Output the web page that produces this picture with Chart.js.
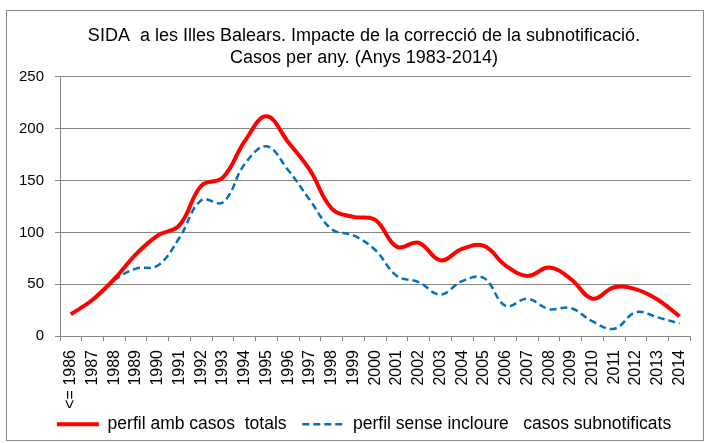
<!DOCTYPE html>
<html>
<head>
<meta charset="utf-8">
<script src="https://cdn.jsdelivr.net/npm/chart.js@4.4.1/dist/chart.umd.min.js"></script>
<style>
  html, body { margin: 0; padding: 0; background: #fff; }
  #wrap { position: relative; width: 708px; height: 443px; }
</style>
</head>
<body>
<div id="wrap"><canvas id="sida-chart"></canvas></div>
<script>
// Categories (first one groups 1983-1986)
const years = [
  '<= 1986', '1987', '1988', '1989', '1990', '1991', '1992', '1993', '1994', '1995',
  '1996', '1997', '1998', '1999', '2000', '2001', '2002', '2003', '2004', '2005',
  '2006', '2007', '2008', '2009', '2010', '2011', '2012', '2013', '2014',
];
// Red line: profile with total cases
const casosTotals = [
  21, 35, 55, 79, 97, 107, 145, 153, 188, 212,
  187, 160, 123, 115, 112, 86, 90, 73, 84, 87,
  68, 58, 66, 55, 36, 47, 45, 35, 19,
];
// Blue dashed line: profile without under-reported cases
const casosSenseSubnotificats = [
  21, 35, 54, 65, 68, 95, 131, 129, 166, 183,
  160, 131, 103, 97, 83, 58, 52, 40, 53, 56,
  29, 36, 26, 27, 14, 7, 23, 18, 12,
];
const yTicks = [0, 50, 100, 150, 200, 250];

const plainFont = "'Liberation Sans', Arial, sans-serif";
const gridGray = '#868686';

// Thin gray frame around the whole chart, like the spreadsheet chart area
const frame = {
  id: 'frame',
  beforeDraw(c) {
    const { ctx } = c;
    ctx.save();
    ctx.strokeStyle = '#8c8c8c';
    ctx.lineWidth = 1;
    ctx.strokeRect(6.5, 10.5, 697, 430);
    ctx.restore();
  },
};

// The original centres title and legend a bit right of the canvas middle
const nudge = {
  id: 'nudge',
  afterLayout(c, args, options) {
    [c.titleBlock, c.legend].forEach((box) => {
      if (!box) return;
      box.left += options.dx;
      box.right += options.dx;
    });
  },
};

const ctx = document.getElementById('sida-chart');
// eslint-disable-next-line no-unused-vars
const chart = new Chart(ctx, {
  type: 'line',
  data: {
    labels: years,
    datasets: [
      {
        label: 'perfil amb casos  totals  ',
        data: casosTotals,
        borderColor: '#ff0000',
        backgroundColor: '#ff0000',
        borderWidth: 4,
        tension: 0.4,
        pointRadius: 0,
        fill: false,
      },
      {
        label: 'perfil sense incloure   casos subnotificats',
        data: casosSenseSubnotificats,
        borderColor: '#0070c0',
        backgroundColor: '#0070c0',
        borderWidth: 2.5,
        borderDash: [7, 4],
        tension: 0.4,
        pointRadius: 0,
        fill: false,
      },
    ],
  },
  options: {
    responsive: true,
    maintainAspectRatio: false,
    animation: false,
    layout: {
      padding: {
        top: 14, bottom: 0, left: 0, right: 16,
      },
    },
    scales: {
      x: {
        offset: true,
        grid: {
          offset: true,
          drawOnChartArea: false,
          drawTicks: true,
          tickLength: 5,
          color: gridGray,
        },
        border: { color: gridGray },
        ticks: {
          autoSkip: false,
          minRotation: 90,
          maxRotation: 90,
          padding: 9,
          color: '#000',
          font: { family: plainFont, size: 16 },
        },
        afterFit: (scale) => { scale.height = 73.5; },
      },
      y: {
        min: 0,
        max: 250,
        afterBuildTicks: (scale) => { scale.ticks = yTicks.map((v) => ({ value: v })); },
        grid: {
          color: gridGray,
          tickLength: 5,
        },
        border: { color: gridGray },
        ticks: {
          padding: 11,
          color: '#000',
          font: { family: plainFont, size: 15 },
        },
        afterFit: (scale) => { scale.width = 60; },
      },
    },
    plugins: {
      nudge: { dx: 18 },
      title: {
        display: true,
        text: [
          'SIDA  a les Illes Balears. Impacte de la correcció de la subnotificació.',
          'Casos per any. (Anys 1983-2014)',
        ],
        color: '#000',
        font: { family: plainFont, size: 18, weight: 'normal', lineHeight: 1.22 },
        padding: { top: 11, bottom: 8 },
      },
      legend: {
        position: 'bottom',
        labels: {
          usePointStyle: true,
          pointStyle: 'line',
          pointStyleWidth: 42,
          padding: 6,
          color: '#000',
          font: { family: plainFont, size: 17.5 },
          // Point-style items lose the line dash, so copy it back from the dataset
          generateLabels: (c) => Chart.defaults.plugins.legend.labels.generateLabels(c)
            .map((item) => {
              const ds = c.data.datasets[item.datasetIndex];
              return {
                ...item,
                lineWidth: ds.borderWidth,
                lineDash: ds.borderDash || [],
                strokeStyle: ds.borderColor,
              };
            }),
        },
      },
      tooltip: { enabled: false },
    },
  },
  plugins: [frame, nudge],
});
</script>
</body>
</html>
